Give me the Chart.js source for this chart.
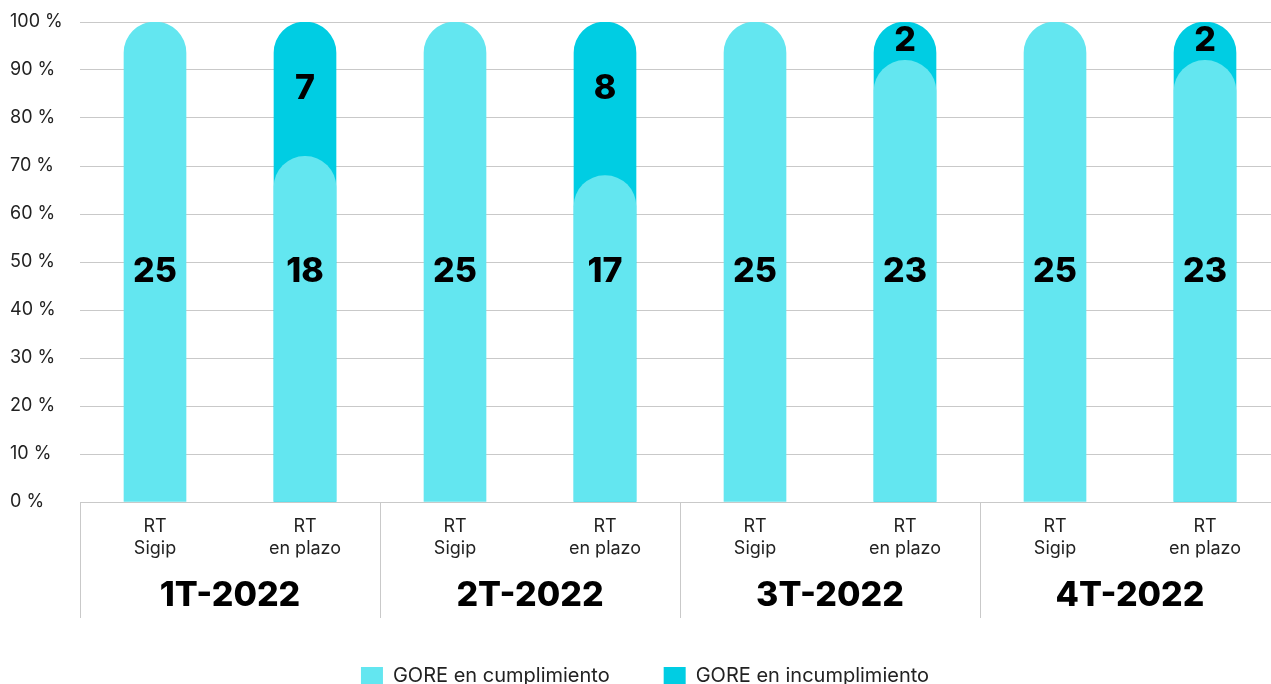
<!DOCTYPE html>
<html>
<head>
<meta charset="utf-8">
<script src="https://cdn.jsdelivr.net/npm/chart.js@4.4.1/dist/chart.umd.min.js"></script>
<style>
  html, body { margin: 0; padding: 0; background: #fff; overflow: hidden; }
  #wrap { width: 1280px; height: 696px; position: relative; }
</style>
</head>
<body>
<div id="wrap"><canvas id="chart"></canvas></div>
<script>
// data
var barLabels = [['RT', 'Sigip'], ['RT', 'en plazo'], ['RT', 'Sigip'], ['RT', 'en plazo'],
                 ['RT', 'Sigip'], ['RT', 'en plazo'], ['RT', 'Sigip'], ['RT', 'en plazo']];
var groups = ['1T-2022', '2T-2022', '3T-2022', '4T-2022'];
var cumplimiento = [25, 18, 25, 17, 25, 23, 25, 23];
var incumplimiento = [0, 7, 0, 8, 0, 2, 0, 2];
var seriesNames = ['GORE en cumplimiento', 'GORE en incumplimiento'];

var lightColor = '#63E6F0';
var darkColor = '#00CDE3';
var gridColor = '#C9C9C9';

function total(i) { return cumplimiento[i] + incumplimiento[i]; }
var pctCumpl = cumplimiento.map(function (v, i) { return v / total(i) * 100; });
// dark bar is drawn behind the light one, from 0 up to the full total
var pctTotal = incumplimiento.map(function (v, i) { return v > 0 ? 100 : null; });

var barLabelsPlugin = {
    id: 'barLabels',
    afterDatasetsDraw: function (chart) {
        var ctx = chart.ctx;
        var y = chart.scales.y;
        var meta = chart.getDatasetMeta(0);
        ctx.save();
        ctx.fillStyle = '#000';
        ctx.font = '800 34px Inter, "DejaVu Sans", sans-serif';
        ctx.textAlign = 'center';
        ctx.textBaseline = 'middle';
        meta.data.forEach(function (bar, i) {
            ctx.fillText(String(cumplimiento[i]), bar.x, y.getPixelForValue(48));
            if (incumplimiento[i] > 0) {
                var mid = Math.max((pctCumpl[i] + 100) / 2, 86);
                ctx.fillText(String(incumplimiento[i]), bar.x, y.getPixelForValue(mid));
            }
        });
        ctx.restore();
    }
};

var groupAxisPlugin = {
    id: 'groupAxis',
    afterDraw: function (chart) {
        var ctx = chart.ctx;
        var area = chart.chartArea;
        var step = (area.right - area.left) / groups.length;
        ctx.save();
        ctx.strokeStyle = gridColor;
        ctx.lineWidth = 1;
        for (var g = 0; g <= groups.length; g++) {
            var gx = Math.round(area.left + g * step) + 0.5;
            ctx.beginPath();
            ctx.moveTo(gx, area.bottom);
            ctx.lineTo(gx, area.bottom + 116);
            ctx.stroke();
        }
        ctx.fillStyle = '#000';
        ctx.font = '800 34px Inter, "DejaVu Sans", sans-serif';
        ctx.textAlign = 'center';
        ctx.textBaseline = 'middle';
        groups.forEach(function (name, g) {
            ctx.fillText(name, area.left + (g + 0.5) * step, area.bottom + 94);
        });
        ctx.restore();
    }
};

var chart = new Chart(document.getElementById('chart'), {
    type: 'bar',
    data: {
        labels: barLabels,
        datasets: [
            {
                label: seriesNames[0],
                data: pctCumpl,
                backgroundColor: lightColor,
                grouped: false,
                barThickness: 62,
                borderRadius: { topLeft: 31, topRight: 31, bottomLeft: 0, bottomRight: 0 },
                borderSkipped: false
            },
            {
                label: seriesNames[1],
                data: pctTotal,
                backgroundColor: darkColor,
                grouped: false,
                barThickness: 62,
                borderRadius: { topLeft: 31, topRight: 31, bottomLeft: 0, bottomRight: 0 },
                borderSkipped: false
            }
        ]
    },
    options: {
        responsive: true,
        maintainAspectRatio: false,
        animation: false,
        layout: { padding: { top: 22, left: 10, right: 0, bottom: 0 } },
        plugins: {
            tooltip: { enabled: false },
            legend: {
                position: 'bottom',
                labels: {
                    boxWidth: 22,
                    boxHeight: 18,
                    color: '#222',
                    padding: 54,
                    font: { family: 'Inter, sans-serif', size: 20 }
                }
            }
        },
        scales: {
            x: {
                grid: { display: false },
                border: { display: false },
                ticks: {
                    color: '#222',
                    padding: 6,
                    maxRotation: 0,
                    autoSkip: false,
                    font: { family: 'Inter, sans-serif', size: 18, lineHeight: 1.2 }
                },
                afterFit: function (scale) { scale.height = 110; }
            },
            y: {
                min: 0,
                max: 100,
                ticks: {
                    stepSize: 10,
                    color: '#222',
                    crossAlign: 'far',
                    padding: 6,
                    font: { family: 'Inter, sans-serif', size: 18 },
                    callback: function (v) { return v + ' %'; }
                },
                grid: { color: gridColor, drawTicks: false },
                border: { display: false },
                afterFit: function (scale) { scale.width = 70; }
            }
        }
    },
    plugins: [barLabelsPlugin, groupAxisPlugin]
});
</script>
</body>
</html>
